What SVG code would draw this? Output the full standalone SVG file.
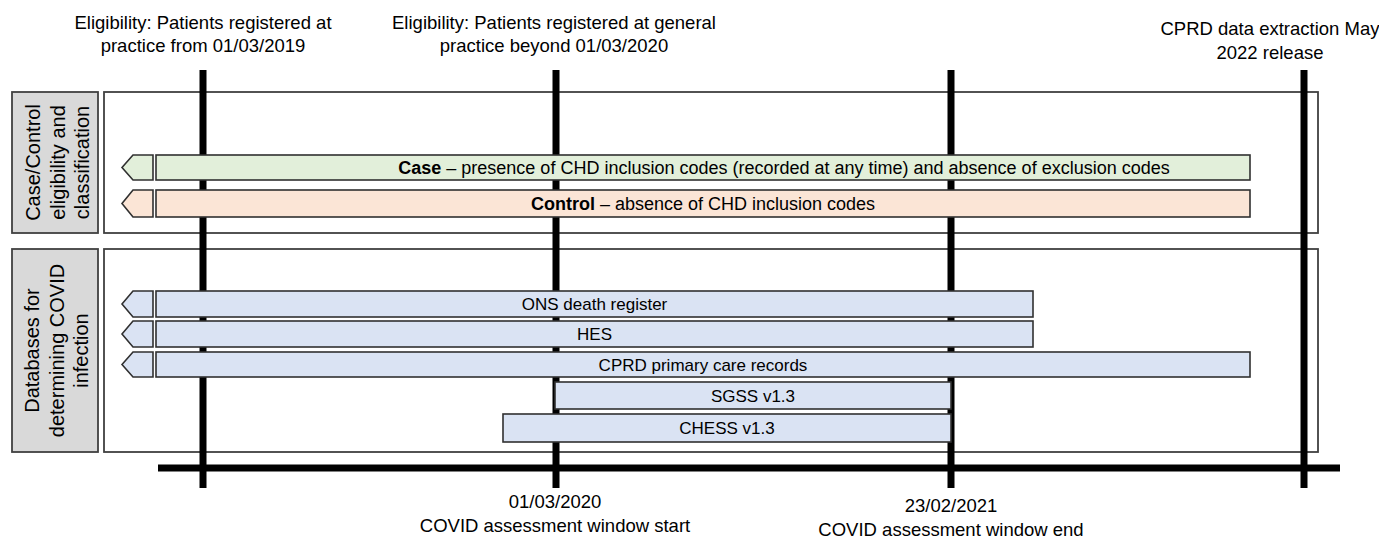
<svg xmlns="http://www.w3.org/2000/svg" width="1379" height="542" viewBox="0 0 1379 542">
<style>
text{font-family:"Liberation Sans",Arial,sans-serif;fill:#000;}
.lbl{font-size:18.5px;text-anchor:middle;}
.side-t{font-size:20px;text-anchor:middle;}
.bt{font-size:17px;text-anchor:middle;}
.bt2{font-size:18px;text-anchor:middle;}
.panel{fill:#fff;stroke:#404040;stroke-width:1.8;}
.side{fill:#d9d9d9;stroke:#404040;stroke-width:1.8;}
.bar{stroke:#303030;stroke-width:1.6;}
.g{fill:#e2efda;}
.o{fill:#fbe5d6;}
.b{fill:#dae3f3;}
.tl{stroke:#000;stroke-width:7;fill:none;}
</style>
<rect width="1379" height="542" fill="#fff"/>
<!-- top labels -->
<g id="label-2019">
<text class="lbl" x="203" y="29">Eligibility: Patients registered at</text>
<text class="lbl" x="203" y="52">practice from 01/03/2019</text>
</g>
<g id="label-2020">
<text class="lbl" x="554" y="29">Eligibility: Patients registered at general</text>
<text class="lbl" x="554" y="52">practice beyond 01/03/2020</text>
</g>
<g id="label-2022">
<text class="lbl" x="1270" y="35">CPRD data extraction May</text>
<text class="lbl" x="1270" y="59">2022 release</text>
</g>
<!-- panels -->
<g id="panel-case">
<rect class="side" x="12" y="92" width="86" height="141"/>
<g transform="translate(55,162.5) rotate(-90)">
<text class="side-t" x="0" y="-15">Case/Control</text>
<text class="side-t" x="0" y="9.5">eligibility and</text>
<text class="side-t" x="0" y="34">classification</text>
</g>
<rect class="panel" x="104" y="92" width="1214" height="141"/>
</g>
<g id="panel-db">
<rect class="side" x="12" y="249" width="86" height="203"/>
<g transform="translate(55,350.5) rotate(-90)">
<text class="side-t" x="0" y="-16">Databases for</text>
<text class="side-t" x="0" y="8.5">determining COVID</text>
<text class="side-t" x="0" y="33">infection</text>
</g>
<rect class="panel" x="104" y="249" width="1214" height="203"/>
</g>
<!-- timeline lines -->
<g id="connectors">
<line class="tl" x1="158" y1="468" x2="1340" y2="468" stroke-width="6"/>
<line class="tl" x1="203" y1="70" x2="203" y2="488"/>
<line class="tl" x1="556" y1="70" x2="556" y2="488"/>
<line class="tl" x1="951" y1="70" x2="951" y2="488"/>
<line class="tl" x1="1304" y1="70" x2="1304" y2="488"/>
</g>
<!-- bars -->
<g id="bar-case">
<polygon class="bar g" points="122,167.5 133,155 153,155 153,180 133,180"/>
<rect class="bar g" x="156" y="155" width="1094" height="25"/>
<text class="bt2" x="784" y="174"><tspan font-weight="bold">Case</tspan> – presence of CHD inclusion codes (recorded at any time) and absence of exclusion codes</text>
</g>
<g id="bar-control">
<polygon class="bar o" points="122,203.5 133,190 153,190 153,217 133,217"/>
<rect class="bar o" x="156" y="190" width="1094" height="27"/>
<text class="bt2" x="703" y="210"><tspan font-weight="bold">Control</tspan> – absence of CHD inclusion codes</text>
</g>
<g id="bar-ons">
<polygon class="bar b" points="122,304 133,291 153,291 153,317 133,317"/>
<rect class="bar b" x="156" y="291" width="877" height="26"/>
<text class="bt" x="594.5" y="310">ONS death register</text>
</g>
<g id="bar-hes">
<polygon class="bar b" points="122,334 133,321 153,321 153,347 133,347"/>
<rect class="bar b" x="156" y="321" width="877" height="26"/>
<text class="bt" x="594.5" y="340">HES</text>
</g>
<g id="bar-cprd">
<polygon class="bar b" points="122,364.5 133,352 153,352 153,377 133,377"/>
<rect class="bar b" x="156" y="352" width="1094" height="25"/>
<text class="bt" x="703" y="370.5">CPRD primary care records</text>
</g>
<g id="bar-sgss">
<rect class="bar b" x="555" y="382" width="396" height="27"/>
<text class="bt" x="753" y="401.5">SGSS v1.3</text>
</g>
<g id="bar-chess">
<rect class="bar b" x="503" y="414" width="448" height="28"/>
<text class="bt" x="727" y="434">CHESS v1.3</text>
</g>
<!-- bottom labels -->
<g id="label-start">
<text class="lbl" x="555" y="508">01/03/2020</text>
<text class="lbl" x="555" y="532">COVID assessment window start</text>
</g>
<g id="label-end">
<text class="lbl" x="951" y="512">23/02/2021</text>
<text class="lbl" x="951" y="536">COVID assessment window end</text>
</g>
</svg>
